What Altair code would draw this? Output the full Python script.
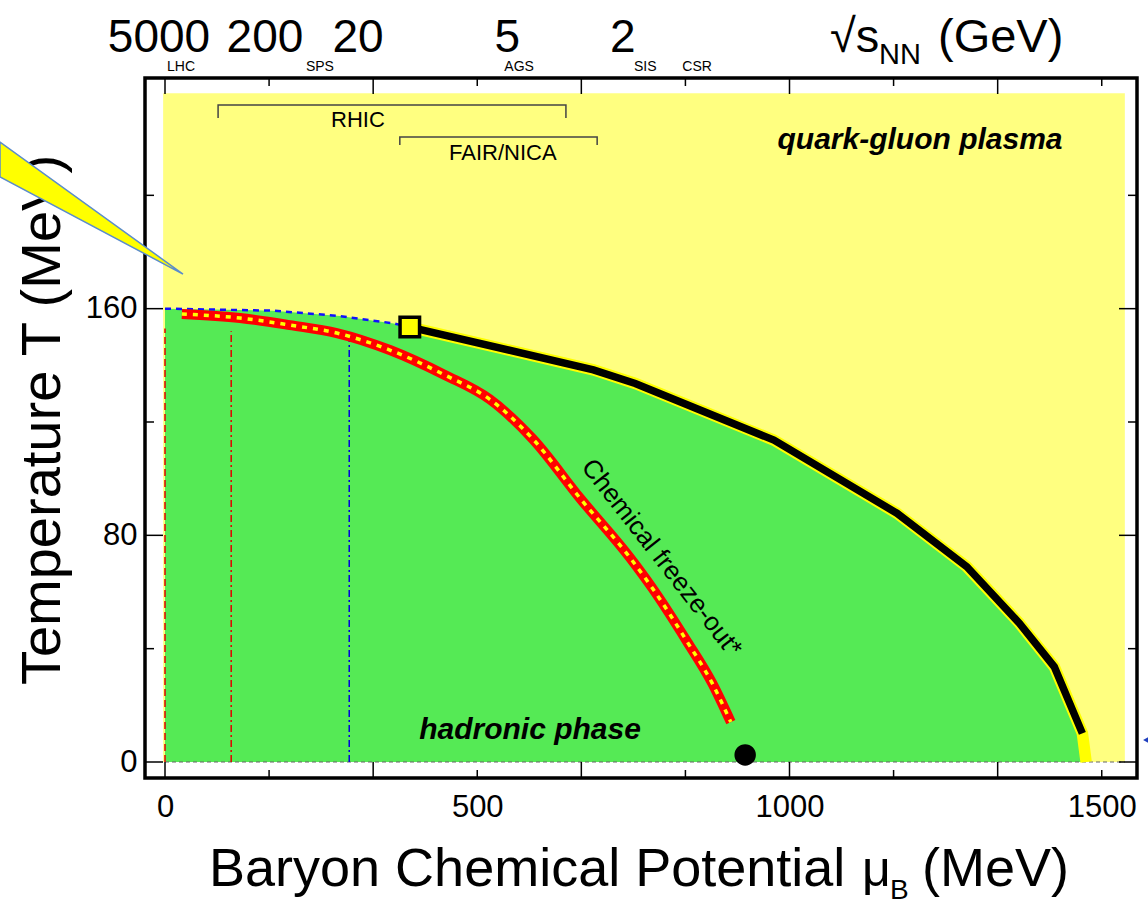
import altair as alt
import pandas as pd

FONT = "Liberation Sans, Arial, Helvetica, sans-serif"

# ---- phase-diagram data (mu_B and T in MeV) ----
crossover_mu = [0, 173, 280, 366, 392]
crossover_T = [160, 159.3, 157.4, 154.8, 153.5]

critical_mu = [392, 686, 753, 975, 1172, 1284, 1368, 1424, 1469]
critical_T = [153.5, 138.4, 133.6, 113.6, 87.8, 68.9, 49.0, 33.6, 10.1]

endpoint_mu = [1469, 1475]
endpoint_T = [10.1, 0]

freeze_mu = [27, 120, 200, 275, 360, 448, 520, 589, 665, 745, 780, 836, 876, 906]
freeze_T = [158.1, 156.7, 154.2, 151.4, 145.4, 136.6, 128.0, 114.0, 93.0, 72.0, 61.5, 42.5, 27.9, 14.1]

cep_mu, cep_T = [392], [153.5]
nuclear_mu, nuclear_T = [929], [2.5]

# vertical guides for collider energies
beam_mu = [0, 106, 295]
beam_T = [153, 152, 151]
beam_color = ["#e00000", "#e00000", "#0000dd"]
beam_dash = [[7, 4], [7, 3, 2, 3], [7, 3, 2, 3]]

# collision energies on the top edge
energy_labels = ["5000", "200", "20", "5", "2"]
energy_mu = [-9.6, 160, 309, 548, 733]
facility_labels = ["LHC", "SPS", "AGS", "SIS", "CSR"]
facility_mu = [25.6, 248, 567, 769, 852]

# experiment ranges
range_labels = ["RHIC", "FAIR/NICA"]
range_lo = [85, 376]
range_hi = [642, 692]
range_T = [231.9, 220.6]
range_drop = [4.6, 2.8]
range_label_mu = [309, 541]
range_label_T = [226.6, 214.8]

# pointer callout entering from the left
pointer_mu = [-264.2, 28.8]
pointer_top = [218.8, 172.2]
pointer_bot = [206.5, 172.2]

x_ticks = [i * 500 / 3 for i in range(10)]
y_ticks = [0, 40, 80, 120, 160, 200]

W, H = 992, 700
xs = alt.Scale(domain=[-32.03, 1556.45], nice=False, zero=False)
ys = alt.Scale(domain=[-5.647, 241.41], nice=False, zero=False)
xaxis = alt.Axis(values=[0, 500, 1000, 1500], format="d", ticks=False, domain=False, grid=False,
                 labelFontSize=31, labelFont=FONT, labelColor="black", labelPadding=14,
                 title=None, labelFlush=False)
yaxis = alt.Axis(values=[0, 80, 160], format="d", ticks=False, domain=False, grid=False,
                 labelFontSize=31, labelFont=FONT, labelColor="black", labelPadding=8,
                 title=None)


def X(f="mu"):
    return alt.X(f"{f}:Q", scale=xs, axis=xaxis)


def Y(f="T"):
    return alt.Y(f"{f}:Q", scale=ys, axis=yaxis)


# ---- regions ----
qgp = alt.Chart(pd.DataFrame({"mu": [-3], "mu2": [1537], "T": [0], "T2": [236]})).mark_rect(
    color="#ffff80").encode(x=X(), x2="mu2", y=Y(), y2="T2")

hadron_mu = crossover_mu + critical_mu[1:] + endpoint_mu[1:]
hadron_T = crossover_T + critical_T[1:] + endpoint_T[1:]
hadron = alt.Chart(pd.DataFrame({"mu": hadron_mu, "T": hadron_T})).mark_area(
    color="#55ea55").encode(x=X(), y=Y(), y2=alt.datum(0))

baseline = alt.Chart(pd.DataFrame({"mu": [0], "mu2": [1537], "T": [0]})).mark_rule(
    color="#666666", strokeWidth=1.2, strokeDash=[4, 3]).encode(x=X(), x2="mu2", y=Y())

# ---- energy guides ----
guides = []
for m, t, c, d in zip(beam_mu, beam_T, beam_color, beam_dash):
    guides.append(alt.Chart(pd.DataFrame({"mu": [m], "T": [0], "T2": [t]})).mark_rule(
        color=c, strokeWidth=1.5, strokeDash=d).encode(x=X(), y=Y(), y2="T2"))

# ---- lines ----
crossover = alt.Chart(pd.DataFrame({"mu": crossover_mu, "T": crossover_T})).mark_line(
    color="#1010ff", strokeWidth=2.5, strokeDash=[6, 5]).encode(x=X(), y=Y())

freeze_df = pd.DataFrame({"mu": freeze_mu, "T": freeze_T})
freeze_red = alt.Chart(freeze_df).mark_line(
    color="#ff0000", strokeWidth=10, strokeCap="butt", interpolate="monotone").encode(x=X(), y=Y())
freeze_dash = alt.Chart(freeze_df).mark_line(
    color="#ffff00", strokeWidth=3.5, strokeDash=[5, 6], interpolate="monotone").encode(x=X(), y=Y())

edge_df = pd.DataFrame({"mu": critical_mu + endpoint_mu[1:], "T": critical_T + endpoint_T[1:]})
critical_glow = alt.Chart(edge_df).mark_line(color="#ffff00", strokeWidth=11.5).encode(x=X(), y=Y())
critical = alt.Chart(pd.DataFrame({"mu": critical_mu, "T": critical_T})).mark_line(
    color="black", strokeWidth=7.5).encode(x=X(), y=Y())

cep = alt.Chart(pd.DataFrame({"mu": cep_mu, "T": cep_T})).mark_square(
    size=380, fill="#ffff00", stroke="black", strokeWidth=3.5, opacity=1).encode(x=X(), y=Y())
nuclear = alt.Chart(pd.DataFrame({"mu": nuclear_mu, "T": nuclear_T})).mark_circle(
    size=460, color="black", opacity=1).encode(x=X(), y=Y())

# ---- experiment ranges ----
br_rows = []
for i, (lo, hi, t, d) in enumerate(zip(range_lo, range_hi, range_T, range_drop)):
    for k, (m, tt) in enumerate([(lo, t - d), (lo, t), (hi, t), (hi, t - d)]):
        br_rows.append({"g": i, "k": k, "mu": m, "T": tt})
brackets = alt.Chart(pd.DataFrame(br_rows)).mark_line(color="#444444", strokeWidth=1.5).encode(
    x=X(), y=Y(), detail="g:N", order="k:Q")
range_text = alt.Chart(pd.DataFrame({"mu": range_label_mu, "T": range_label_T, "t": range_labels})).mark_text(
    font=FONT, fontSize=22, color="black", baseline="middle").encode(x=X(), y=Y(), text="t:N")

# ---- region labels ----
phase_text = alt.Chart(pd.DataFrame({"mu": [1209, 584.5], "T": [219.5, 11.3],
                                     "t": ["quark-gluon plasma", "hadronic phase"]})).mark_text(
    font=FONT, fontSize=30, fontWeight="bold", fontStyle="italic", color="black",
    baseline="middle").encode(x=X(), y=Y(), text="t:N")

freeze_text = alt.Chart(pd.DataFrame({"mu": [795], "T": [72.0], "t": ["Chemical  freeze-out*"]})).mark_text(
    font=FONT, fontSize=26, color="black", angle=52, baseline="middle").encode(x=X(), y=Y(), text="t:N")

# ---- frame ticks (pointing inward) ----
tick_layers = []
for i, v in enumerate(x_ticks):
    L = 16 if i % 2 == 0 else 8
    d = pd.DataFrame({"mu": [v]})
    tick_layers.append(alt.Chart(d).mark_rule(color="black", strokeWidth=1.5).encode(
        x=X(), y=alt.value(H), y2=alt.value(H - L)))
    tick_layers.append(alt.Chart(d).mark_rule(color="black", strokeWidth=1.5).encode(
        x=X(), y=alt.value(0), y2=alt.value(L)))
for i, v in enumerate(y_ticks):
    L = 18 if i % 2 == 0 else 9
    d = pd.DataFrame({"T": [v]})
    tick_layers.append(alt.Chart(d).mark_rule(color="black", strokeWidth=1.5).encode(
        y=Y(), x=alt.value(0), x2=alt.value(L)))
    tick_layers.append(alt.Chart(d).mark_rule(color="black", strokeWidth=1.5).encode(
        y=Y(), x=alt.value(W), x2=alt.value(W - L)))

# ---- top energy scale ----
energy_text = alt.Chart(pd.DataFrame({"mu": energy_mu, "t": energy_labels})).mark_text(
    font=FONT, fontSize=46, color="black", baseline="alphabetic").encode(
    x=X(), y=alt.value(-26), text="t:N")
facility_text = alt.Chart(pd.DataFrame({"mu": facility_mu, "t": facility_labels})).mark_text(
    font=FONT, fontSize=14, color="black", baseline="alphabetic").encode(
    x=X(), y=alt.value(-7), text="t:N")


def free_text(s, x, y, size, angle=0, align="left", baseline="alphabetic"):
    return alt.Chart(pd.DataFrame({"t": [s]})).mark_text(
        font=FONT, fontSize=size, color="black", align=align, baseline=baseline, angle=angle).encode(
        x=alt.value(x), y=alt.value(y), text="t:N")


titles = [
    free_text("\u221as", 830 - 145, 52 - 78, 47),
    free_text("NN", 879 - 145, 64 - 78, 29),
    free_text("(GeV)", 938 - 145, 52 - 78, 47),
    free_text("Baryon Chemical Potential", 209 - 145, 886 - 78, 54),
    free_text("\u03bc", 862 - 145, 886 - 78, 50),
    free_text("B", 890 - 145, 899 - 78, 28),
    free_text("(MeV)", 922 - 145, 886 - 78, 54),
    free_text("Temperature T (MeV)", 60 - 145, 420 - 78, 56, angle=270, align="center"),
]

pointer = alt.Chart(pd.DataFrame({"mu": pointer_mu, "T": pointer_top, "T2": pointer_bot})).mark_area(
    fill="#ffff00", stroke="#5b8ccc", strokeWidth=1.5, opacity=1).encode(x=X(), y=Y(), y2="T2")

arrow_tip = alt.Chart(pd.DataFrame({"t": [0]})).mark_point(
    shape="triangle-left", filled=True, color="#1f3fbf", size=420, opacity=1).encode(
    x=alt.value(1152 - 145), y=alt.value(740 - 78))

chart = alt.layer(
    qgp, hadron, baseline, *guides, crossover, freeze_red, freeze_dash,
    critical_glow, critical, cep, nuclear, brackets, range_text, phase_text, freeze_text,
    *tick_layers, energy_text, facility_text, *titles, pointer, arrow_tip
).properties(
    width=W, height=H,
    padding={"left": 145, "top": 78, "right": 11, "bottom": 124},
    autosize=alt.AutoSizeParams(type="none"),
    background="white",
).configure_view(stroke="black", strokeWidth=3.5)

chart.save("out.html", embed_options={"renderer": "svg", "actions": False})
